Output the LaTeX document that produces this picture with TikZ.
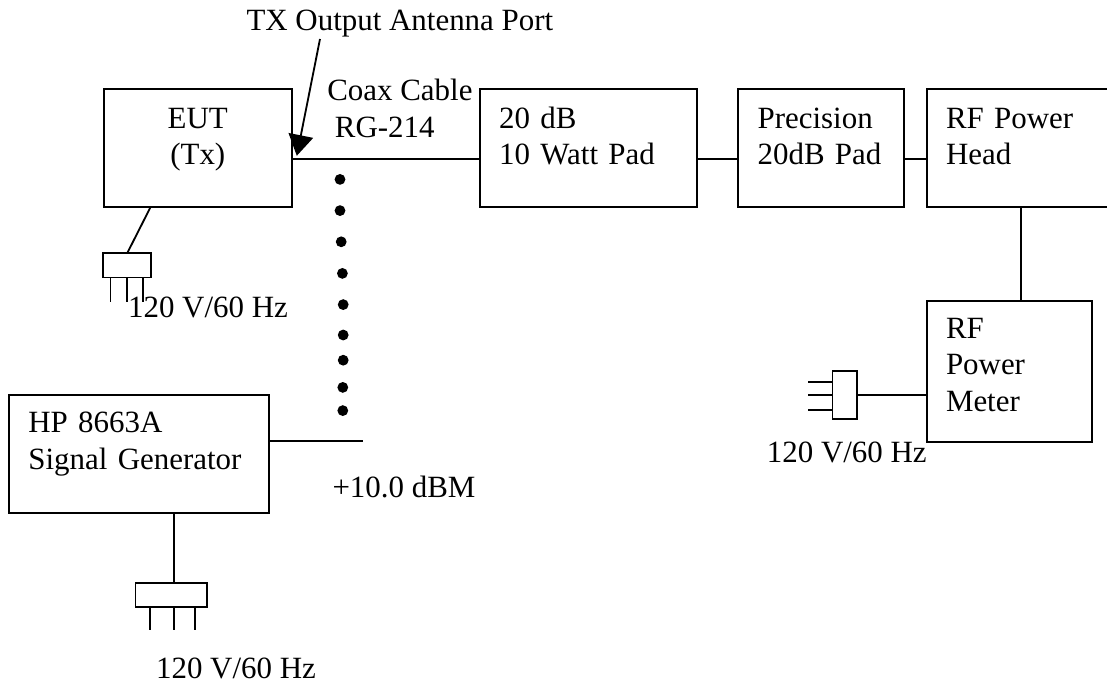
\documentclass[tikz,border=0pt]{standalone}
\usepackage{fontspec}
\setmainfont{Liberation Serif}
\usetikzlibrary{arrows.meta}
\begin{document}
\begin{tikzpicture}[every node/.style={font=\fontsize{22}{26}\selectfont},
  every path/.style={line width=1.3pt},
  s/.style={rectangle,align=left,anchor=north west,inner sep=0pt,outer sep=0pt},
  bx/.style={s,draw,line width=1.3pt},
  plug/.style={draw,rectangle,inner sep=0pt,outer sep=0pt,line width=1.1pt},
  txt/.style={anchor=base west,inner sep=0pt},
  dot/.style={circle,fill=black,inner sep=0pt,minimum size=0.27cm}]
\useasboundingbox (0,0) rectangle (27.675,17.075);
\node[bx,text width=4.71cm,align=center,text height=0.98cm,text depth=1.97cm] (eut) at (2.59,14.85) {EUT\\(Tx)};
\node[bx,text width=4.47cm,inner xsep=0.48cm,text height=0.98cm,text depth=1.97cm] (pad) at (12.0,14.85) {20 dB\\10 Watt Pad};
\node[bx,text width=3.17cm,inner xsep=0.48cm,text height=0.98cm,text depth=1.97cm] (prec) at (18.46,14.85) {Precision\\20dB Pad};
\node[s,text width=3.545cm,inner xsep=0.48cm,text height=0.98cm,text depth=1.97cm] (head) at (23.17,14.85) {RF Power\\Head};
\node[bx,text width=3.17cm,inner xsep=0.48cm,text height=0.94cm,text depth=2.59cm] (meter) at (23.17,9.56) {RF\\Power\\Meter};
\node[bx,text width=5.53cm,inner xsep=0.48cm,text height=0.94cm,text depth=2.0cm] (gen) at (0.23,7.2) {HP 8663A\\Signal Generator};
\node[plug,minimum width=1.2cm,minimum height=0.61cm] (plugeut) at (3.18,10.44) {};
\node[plug,minimum width=1.78cm,minimum height=0.61cm] (pluggen) at (4.28,2.2) {};
\node[plug,minimum width=0.61cm,minimum height=1.19cm] (plugmeter) at (21.12,7.2) {};
\node[txt] (txport) at (6.14,16.31) {TX Output Antenna Port};
\node[txt] (coax) at (8.16,14.55) {Coax Cable};
\node[txt] (rg) at (8.35,13.63) {RG-214};
\node[txt] (level) at (8.29,4.64) {+10.0 dBM};
\node[txt] (maineut) at (3.18,9.13) {120 V/60 Hz};
\node[txt] (mainmeter) at (19.15,5.52) {120 V/60 Hz};
\node[txt] (maingen) at (3.88,0.12) {120 V/60 Hz};
\coordinate (portfrom) at (8.0,16.1);
\coordinate (porttip) at (7.42,13.18);
\coordinate (genout) at (9.07,6.04);
\foreach \x/\y [count=\i] in {8.5/12.59,8.5/11.81,8.53/11.03,8.56/10.24,8.58/9.46,8.58/8.7,8.58/8.07,8.57/7.39,8.57/6.81}
  \node[dot] (dot\i) at (\x,\y) {};
\draw (head.north east) -- (head.north west) -- (head.south west) -- (head.south east);
\draw[-{Triangle[length=0.52cm,width=0.62cm]}] (portfrom) -- (porttip);
\draw ([yshift=-0.28cm]eut.east) -- ([yshift=-0.28cm]pad.west);
\draw ([yshift=-0.28cm]pad.east) -- ([yshift=-0.28cm]prec.west);
\draw ([yshift=-0.28cm]prec.east) -- ([yshift=-0.28cm]head.west);
\draw ([xshift=0.29cm]meter.north) -- ([xshift=0.29cm]meter.north |- head.south);
\draw (plugmeter.east) -- (plugmeter.east -| meter.west);
\draw (genout -| gen.east) -- (genout);
\draw ([xshift=-1.18cm]eut.south) -- (plugeut.north);
\draw ([xshift=0.875cm]gen.south) -- ([xshift=0.875cm]gen.south |- pluggen.north);
\foreach \d in {-0.415,0,0.4}
  \draw[line width=1.1pt] ([xshift=\d cm]plugeut.south) -- ++(0,-0.6);
\foreach \d in {-0.526,0.066,0.59}
  \draw[line width=1.1pt] ([xshift=\d cm]pluggen.south) -- ++(0,-0.58);
\foreach \d in {0.325,0,-0.37}
  \draw[line width=1.1pt] ([yshift=\d cm]plugmeter.west) -- ++(-0.61,0);
\end{tikzpicture}
\end{document}
